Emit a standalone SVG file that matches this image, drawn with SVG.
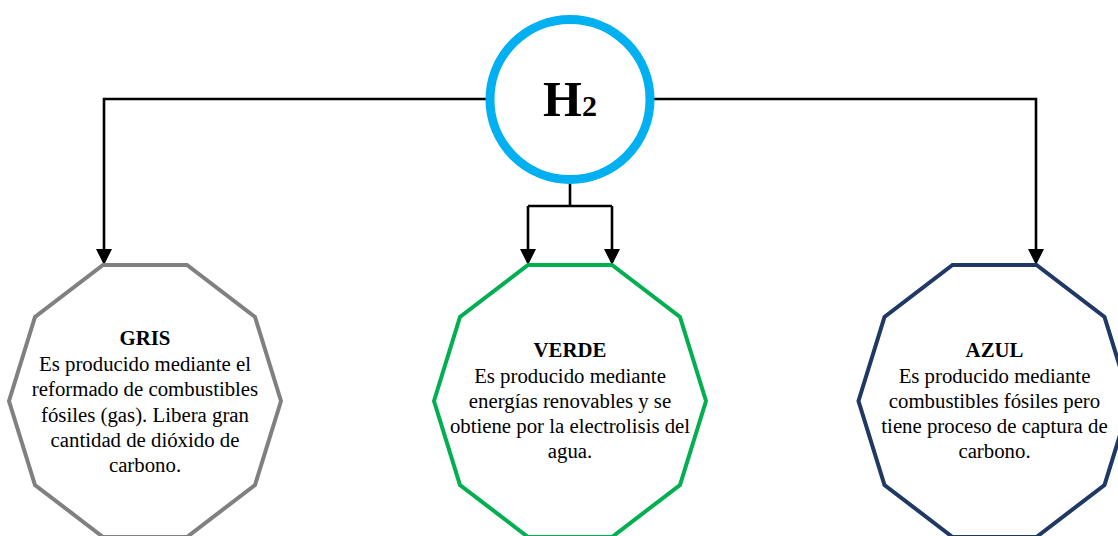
<svg xmlns="http://www.w3.org/2000/svg" width="1118" height="536" viewBox="0 0 1118 536">
<style>
.conn{fill:none;stroke:#000;stroke-width:2.6}
.deca{fill:#fff;stroke-width:4;stroke-linejoin:miter}
.t{font-family:"Liberation Serif","Times New Roman",serif;font-size:20.8px;fill:#000;text-anchor:middle}
.b{font-weight:bold}
</style>
<defs>
<marker id="arr" viewBox="0 0 16 16" markerWidth="16" markerHeight="16" refX="13" refY="8" orient="auto" markerUnits="userSpaceOnUse">
<path d="M0,0 L16,8 L0,16 Z" fill="#000"/>
</marker>
</defs>
<rect width="1118" height="536" fill="#fff"/>
<g id="connectors">
<path class="conn" d="M486,99 H104 V262" marker-end="url(#arr)"/>
<path class="conn" d="M654,99 H1036 V262" marker-end="url(#arr)"/>
<path class="conn" d="M570,184 V206"/>
<path class="conn" d="M528,206 H612"/>
<path class="conn" d="M528,206 V262" marker-end="url(#arr)"/>
<path class="conn" d="M612,206 V262" marker-end="url(#arr)"/>
</g>
<g id="h2">
<circle cx="570" cy="99.5" r="80" fill="#fff" stroke="#00b0f0" stroke-width="9"/>
<text x="570" y="116" class="t b" style="font-size:50px"><tspan>H</tspan><tspan style="font-size:30px;font-weight:bold">2</tspan></text>
</g>
<g id="gris">
<polygon class="deca" stroke="#808080" points="103,265 187,265 255,317 281,401 255,485 187,537 103,537 35,485 9,401 35,317"/>
<text class="t b" x="145" y="345">GRIS</text>
<text class="t" x="145" y="370.5">Es producido mediante el</text>
<text class="t" x="145" y="396">reformado de combustibles</text>
<text class="t" x="145" y="421.5">fósiles (gas). Libera gran</text>
<text class="t" x="145" y="447">cantidad de dióxido de</text>
<text class="t" x="145" y="472">carbono.</text>
</g>
<g id="verde">
<polygon class="deca" stroke="#00b050" points="528,265 612,265 680,317 706,401 680,485 612,537 528,537 460,485 434,401 460,317"/>
<text class="t b" x="570" y="357">VERDE</text>
<text class="t" x="570" y="382.5">Es producido mediante</text>
<text class="t" x="570" y="408">energías renovables y se</text>
<text class="t" x="570" y="433">obtiene por la electrolisis del</text>
<text class="t" x="570" y="458">agua.</text>
</g>
<g id="azul">
<polygon class="deca" stroke="#1f3864" points="952.5,265 1036.5,265 1104.5,317 1130.5,401 1104.5,485 1036.5,537 952.5,537 884.5,485 858.5,401 884.5,317"/>
<text class="t b" x="994.5" y="357">AZUL</text>
<text class="t" x="994.5" y="382.5">Es producido mediante</text>
<text class="t" x="994.5" y="408">combustibles fósiles pero</text>
<text class="t" x="994.5" y="433">tiene proceso de captura de</text>
<text class="t" x="994.5" y="458">carbono.</text>
</g>
</svg>
